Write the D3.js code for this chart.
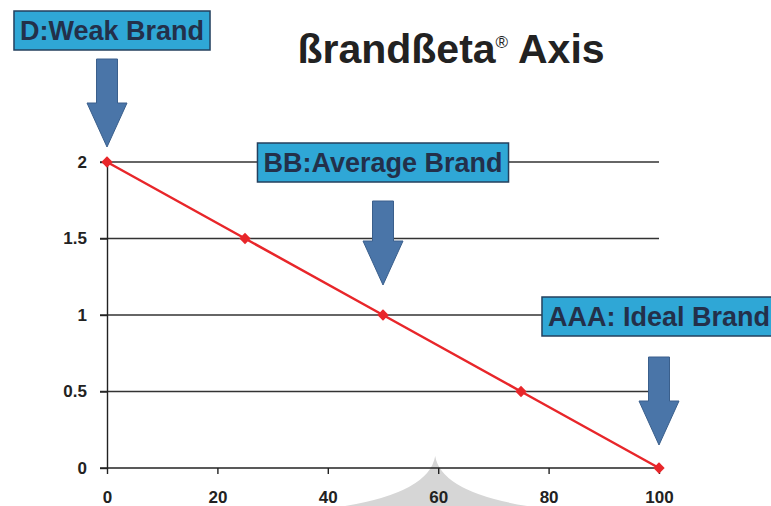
<!DOCTYPE html>
<html>
<head>
<meta charset="utf-8">
<script src="https://cdn.jsdelivr.net/npm/d3@7"></script>
<style>
  body { margin: 0; background: #fff; }
  svg { display: block; font-family: "Liberation Sans", Arial, sans-serif; }
</style>
</head>
<body>
<svg id="chart"></svg>
<script>
// brand beta line: score (x) vs beta (y)
const scores = [0, 25, 50, 75, 100];
const betas = [2, 1.5, 1, 0.5, 0];
const xTicks = [0, 20, 40, 60, 80, 100];
const yTicks = [0, 0.5, 1, 1.5, 2];
const labelNames = ["D:Weak Brand", "BB:Average Brand", "AAA: Ideal Brand"];
const labelScores = [0, 50, 100];
const labelBetas = [2, 1, 0];

const width = 771;
const height = 506;

const x = d3.scaleLinear().domain([0, 100]).range([107, 659]);
const y = d3.scaleLinear().domain([0, 2]).range([468, 162]);

const svg = d3.select("#chart").attr("width", width).attr("height", height);

// grey watermark shape near the bottom
const peak = x(60) - 3;
svg
  .append("path")
  .attr("d", `M${peak},456 Q${peak + 6},492 ${peak + 92},506 L${peak - 90},506 Q${peak - 6},492 ${peak},456 Z`)
  .style("fill", "#d6d6d6");

// title
svg
  .append("text")
  .attr("x", 451)
  .attr("y", 63)
  .attr("text-anchor", "middle")
  .style("font-size", "41px")
  .style("font-weight", "bold")
  .style("fill", "#222")
  .call((t) => t.append("tspan").text("ßrandßeta"))
  .call((t) =>
    t.append("tspan").attr("dy", -15).style("font-size", "17px").style("font-weight", "normal").text("®")
  )
  .call((t) => t.append("tspan").attr("dy", 15).text(" Axis"));

// gridlines
svg
  .append("g")
  .selectAll("line")
  .data(yTicks.filter((d) => d > 0))
  .join("line")
  .attr("x1", x(0) - 7)
  .attr("x2", x(100))
  .attr("y1", (d) => y(d))
  .attr("y2", (d) => y(d))
  .style("stroke", "#333")
  .style("stroke-width", 1.4);

const fmt = d3.format("~g");
const yAxis = d3.axisLeft(y).tickValues(yTicks).tickFormat(fmt).tickSize(7).tickSizeOuter(0).tickPadding(13);
const xAxis = d3.axisBottom(x).tickValues(xTicks).tickFormat(fmt).tickSize(6).tickSizeOuter(0).tickPadding(17);

const styleAxis = (g) =>
  g
    .call((g) => g.selectAll("line, path").style("stroke", "#222").style("stroke-width", 1.4))
    .call((g) =>
      g
        .selectAll("text")
        .style("font-size", "17px")
        .style("font-weight", "bold")
        .style("fill", "#222")
        .style("font-family", "Liberation Sans, Arial, sans-serif")
    );

svg
  .append("g")
  .attr("transform", `translate(${x(0)},0)`)
  .call(yAxis)
  .call(styleAxis);

svg
  .append("g")
  .attr("transform", `translate(0,${y(0)})`)
  .call(xAxis)
  .call((g) => g.select("path").attr("d", `M${x(0) - 7},0H${x(100)}`))
  .call(styleAxis);

// red line with diamonds
const pts = scores.map((s, i) => ({ s, b: betas[i] }));
svg
  .append("path")
  .datum(pts)
  .attr("d", d3.line().x((d) => x(d.s)).y((d) => y(d.b)))
  .style("fill", "none")
  .style("stroke", "#e8262a")
  .style("stroke-width", 2.5);

svg
  .append("g")
  .selectAll("path")
  .data(pts)
  .join("path")
  .attr("transform", (d) => `translate(${x(d.s)},${y(d.b)}) rotate(45)`)
  .attr("d", "M-4,-4H4V4H-4Z")
  .style("fill", "#e8262a");

// arrows + labels
const arrowTips = [15, 30, 23];
const arrowShaft = [44, 40, 44];
const labelTop = [11, 143, 297];
const labelOffset = [5, 0, 0];

const notes = labelNames.map((name, i) => ({
  name,
  cx: x(labelScores[i]),
  tip: y(labelBetas[i]) - arrowTips[i],
  shaft: arrowShaft[i],
  top: labelTop[i],
  off: labelOffset[i],
}));

svg
  .append("g")
  .selectAll("path")
  .data(notes)
  .join("path")
  .attr(
    "d",
    (d) =>
      `M${d.cx - 10.5},${d.tip - 44 - d.shaft}H${d.cx + 10.5}V${d.tip - 44}H${d.cx + 20}L${d.cx},${d.tip}L${d.cx - 20},${d.tip - 44}H${d.cx - 10.5}Z`
  )
  .style("fill", "#4a75a8")
  .style("stroke", "#3a5f8c")
  .style("stroke-width", 1);

const lab = svg.append("g").selectAll("g").data(notes).join("g");

lab
  .append("text")
  .attr("x", (d) => d.cx + d.off)
  .attr("y", (d) => d.top + 29)
  .attr("text-anchor", "middle")
  .style("font-size", "27px")
  .style("font-weight", "bold")
  .style("fill", "#23304a")
  .text((d) => d.name)
  .each(function (d) {
    d.w = this.getComputedTextLength();
  });

lab
  .insert("rect", "text")
  .attr("x", (d) => d.cx + d.off - d.w / 2 - 6)
  .attr("y", (d) => d.top)
  .attr("width", (d) => d.w + 12)
  .attr("height", 39)
  .style("fill", "#2fa7d6")
  .style("stroke", "#24405e")
  .style("stroke-width", 1.5);
</script>
</body>
</html>
